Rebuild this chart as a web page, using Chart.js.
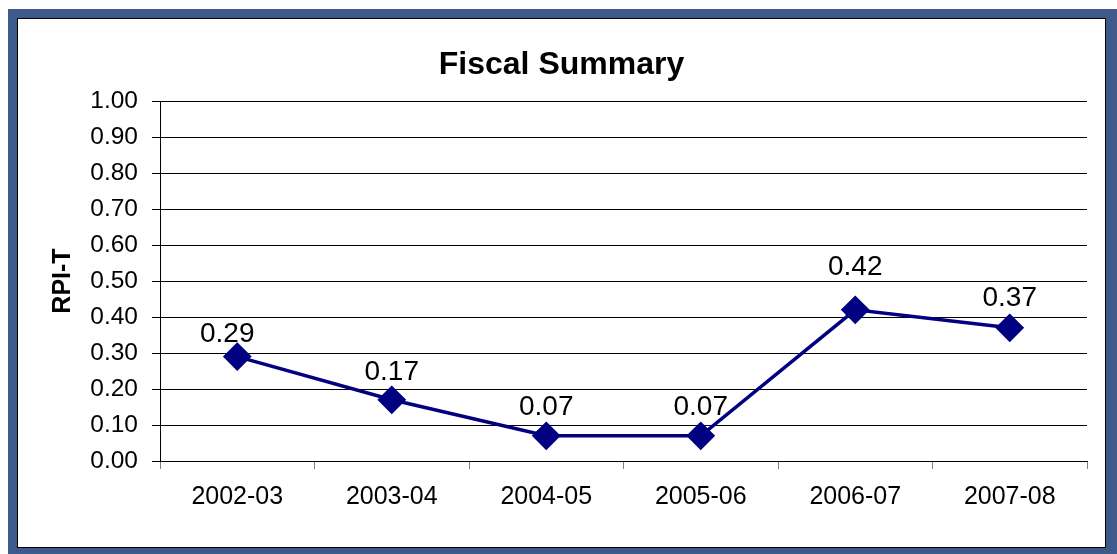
<!DOCTYPE html>
<html>
<head>
<meta charset="utf-8">
<script src="https://cdn.jsdelivr.net/npm/chart.js@4/dist/chart.umd.min.js"></script>
<style>
    html, body {
        margin: 0;
        padding: 0;
        background: #ffffff;
        width: 1117px;
        height: 554px;
        overflow: hidden;
    }
    /* 青い外枠 */
    #frame {
        position: absolute;
        left: 8px;
        top: 9px;
        width: 1109px;
        height: 550px;
        background: #3e5a8b;
    }
    /* 白いチャート領域（細い黒線で囲む） */
    #inner {
        position: absolute;
        left: 9px;
        top: 9px;
        width: 1087px;
        height: 528px;
        background: #ffffff;
        border: 1px solid #000000;
    }
    #chart {
        position: absolute;
        left: 0;
        top: 0;
    }
</style>
</head>
<body>
<div id="frame">
    <div id="inner">
        <canvas id="chart" width="1087" height="528"></canvas>
    </div>
</div>
<script>
// データ
const years = ["2002-03", "2003-04", "2004-05", "2005-06", "2006-07", "2007-08"];
const rpiT = [0.29, 0.17, 0.07, 0.07, 0.42, 0.37];
const yTicks = [0.0, 0.1, 0.2, 0.3, 0.4, 0.5, 0.6, 0.7, 0.8, 0.9, 1.0];

const FONT = "'Liberation Sans', Arial, sans-serif";
const NAVY = "#000080";

// ラベルの位置ずれ（元の図に合わせたピクセル単位の調整）
const labelShiftX = [-10, 0, 0, 0, 0, 0];
const labelShiftY = [22, 28, 29, 29, 43, 30];

// 各点の上に値を描くプラグイン
const valueLabels = {
    id: "valueLabels",
    afterDatasetsDraw(chart) {
        const ctx = chart.ctx;
        const meta = chart.getDatasetMeta(0);
        ctx.save();
        ctx.font = "28px " + FONT;
        ctx.fillStyle = "#000000";
        ctx.textAlign = "center";
        ctx.textBaseline = "middle";
        meta.data.forEach(function (pt, i) {
            ctx.fillText(rpiT[i].toFixed(2), pt.x + labelShiftX[i], pt.y - labelShiftY[i]);
        });
        ctx.restore();
    },
};

new Chart(document.querySelector("#chart").getContext("2d"), {
    type: "line",
    data: {
        labels: years,
        datasets: [
            {
                data: rpiT,
                borderColor: NAVY,
                borderWidth: 3.5,
                backgroundColor: NAVY,
                pointStyle: "rectRot",
                pointRadius: 13,
                pointBorderWidth: 2,
                pointBorderColor: NAVY,
                pointBackgroundColor: NAVY,
                tension: 0,
            },
        ],
    },
    options: {
        responsive: false,
        animation: false,
        layout: {
            padding: { left: 18, right: 18, top: 0, bottom: 0 },
        },
        plugins: {
            legend: { display: false },
            tooltip: { enabled: false },
            title: {
                display: true,
                text: "Fiscal Summary",
                color: "#000000",
                font: { family: FONT, size: 32, weight: "bold" },
                padding: { top: 27, bottom: 16.6 },
            },
        },
        scales: {
            x: {
                offset: true,
                grid: {
                    offset: true,
                    drawOnChartArea: true,
                    color: function (c) {
                        return c.index === years.length ? "#808080" : "rgba(0,0,0,0)";
                    },
                    tickColor: "#808080",
                    tickLength: 8,
                },
                border: { color: "#000000", width: 1 },
                ticks: {
                    color: "#000000",
                    font: { family: FONT, size: 25 },
                    padding: 13,
                    maxRotation: 0,
                },
                afterFit: function (s) {
                    s.height = 86;
                },
            },
            y: {
                min: 0,
                max: 1,
                afterBuildTicks: function (s) {
                    s.ticks = yTicks.map(function (v) { return { value: v }; });
                },
                grid: {
                    color: "#000000",
                    tickColor: "#000000",
                    tickLength: 8,
                },
                border: { color: "#000000", width: 1 },
                ticks: {
                    color: "#000000",
                    font: { family: FONT, size: 24.5 },
                    padding: 14,
                    callback: function (v) {
                        return Number(v).toFixed(2);
                    },
                },
                title: {
                    display: true,
                    text: "RPI-T",
                    color: "#000000",
                    font: { family: FONT, size: 25, weight: "bold" },
                    padding: { top: 12, bottom: 0 },
                },
                afterFit: function (s) {
                    s.width = 124;
                },
            },
        },
    },
    plugins: [valueLabels],
});
</script>
</body>
</html>
